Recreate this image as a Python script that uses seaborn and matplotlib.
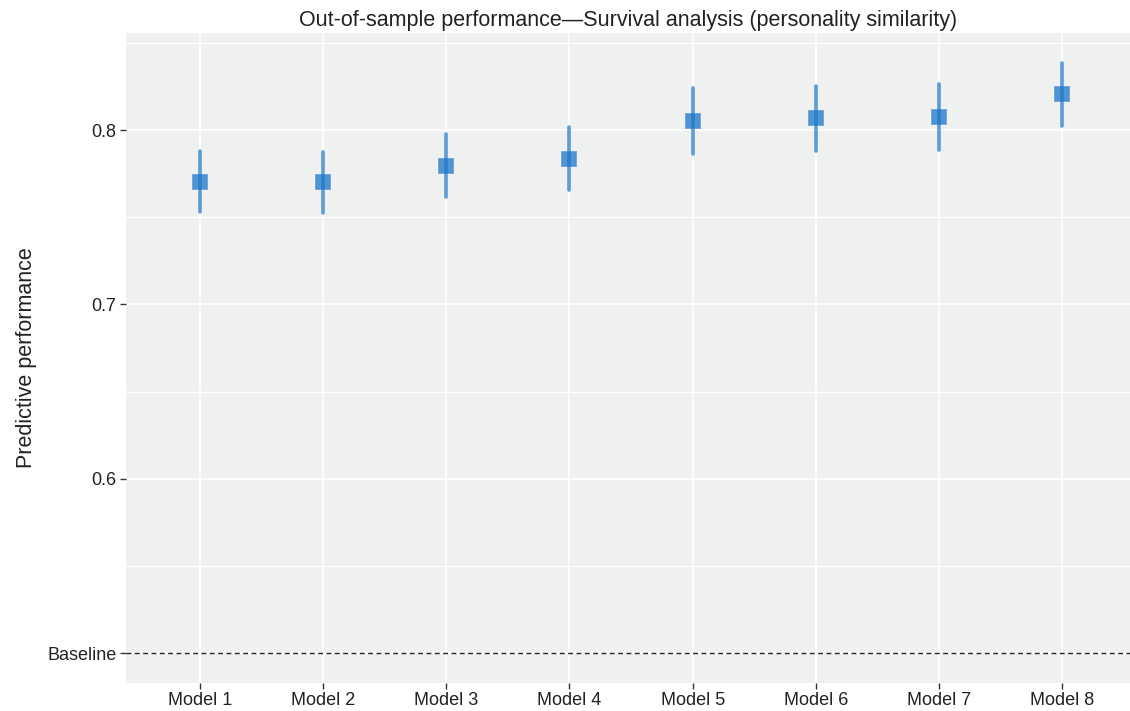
import numpy as np
import pandas as pd
import matplotlib.pyplot as plt
import seaborn as sns

models = ["Model 1", "Model 2", "Model 3", "Model 4",
          "Model 5", "Model 6", "Model 7", "Model 8"]
estimate = [0.7704, 0.7700, 0.7795, 0.7834, 0.8054, 0.8067, 0.8073, 0.8205]
lower = [0.7528, 0.7524, 0.7616, 0.7654, 0.7862, 0.7878, 0.7885, 0.8023]
upper = [0.7877, 0.7876, 0.7975, 0.8015, 0.8243, 0.8255, 0.8263, 0.8383]
baseline = 0.5
ytick_vals = [0.5, 0.6, 0.7, 0.8]
ytick_labels = ["Baseline", "0.6", "0.7", "0.8"]

# long form: each model gets lower / estimate / upper, median = estimate
df = pd.DataFrame({
    "model": np.repeat(models, 3),
    "perf": np.column_stack([lower, estimate, upper]).ravel(),
})

sns.set_theme(style="darkgrid", rc={
    "axes.facecolor": "#eff0f0",
    "grid.color": "white",
    "grid.linewidth": 1.2,
})
plt.rcParams["font.family"] = ["Liberation Sans", "DejaVu Sans"]

fig = plt.figure(figsize=(11.3, 7.11), dpi=100)
ax = fig.add_axes([0.1115, 0.040, 0.8885, 0.9135])

blue = "#1b76c9"
sns.pointplot(
    data=df, x="model", y="perf", ax=ax,
    estimator="median", errorbar=lambda v: (v.min(), v.max()),
    linestyle="none", marker="s", markersize=9.5, color=blue,
    err_kws={"linewidth": 2.6, "alpha": 0.7},
)
for line in ax.lines:
    if line.get_marker() == "s":
        line.set_alpha(0.75)
        line.set_markeredgecolor("#4a90d4")
        line.set_markeredgewidth(1.4)

ax.axhline(baseline, color="#222222", linestyle=(0, (3.5, 2.5)), linewidth=1, zorder=3)

ax.set_ylim(0.4831, 0.8556)
ax.set_xlim(-0.6, 7.55)
ax.set_yticks(ytick_vals)
ax.set_yticklabels(ytick_labels)
ax.set_yticks([0.55, 0.65, 0.75, 0.85], minor=True)
ax.grid(which="minor", axis="y", color="white", linewidth=1.0)
ax.grid(which="major", color="white", linewidth=1.2)
ax.tick_params(axis="both", which="major", length=4, width=1, color="#333333",
               labelsize=13, labelcolor="#222222", pad=3, left=True, bottom=True)
ax.tick_params(axis="y", which="minor", length=0)
for s in ax.spines.values():
    s.set_visible(False)

ax.set_xlabel("")
ax.set_ylabel("Predictive performance", fontsize=15.5, color="#222222", labelpad=7)
ax.set_title("Out-of-sample performance\u2014Survival analysis (personality similarity)",
             fontsize=15.5, color="#222222", pad=5)

fig.savefig("out.png", dpi=100)
